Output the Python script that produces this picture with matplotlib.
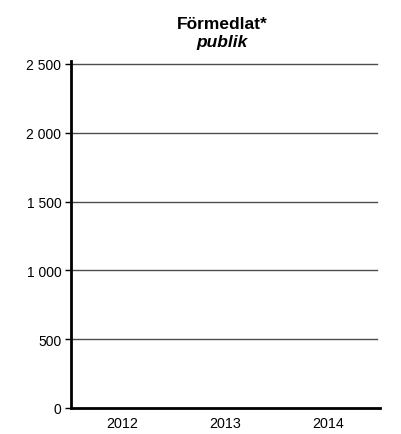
import numpy as np
import matplotlib.pyplot as plt
from matplotlib.ticker import FuncFormatter

plt.rcParams['font.family'] = ['Liberation Sans', 'DejaVu Sans']

# data (the chart shows no bars, so values are empty)
years = ['2012', '2013', '2014']
publik = [0, 0, 0]
yticks = [0, 500, 1000, 1500, 2000, 2500]

fig = plt.figure(figsize=(4.01, 4.35), dpi=100)
ax = fig.add_axes([71/401, 26/435, 309/401, 344/435])

x = np.arange(len(years))
ax.bar(x, publik, width=0.6, color='#4a4a4a', zorder=3)

ax.set_xlim(-0.5, 2.5)
ax.set_ylim(0, 2500)
ax.set_yticks(yticks)
ax.yaxis.set_major_formatter(FuncFormatter(lambda v, p: f'{int(v):,}'.replace(',', ' ')))
ax.set_xticks(x)
ax.set_xticklabels(years)

# horizontal gridlines, stopping just short of the x-axis end
for v in yticks[1:]:
    ax.plot([-0.5, 2.47], [v, v], color='#4d4d4d', lw=1.0, zorder=1, clip_on=False)

for s in ['top', 'right']:
    ax.spines[s].set_visible(False)
ax.spines['left'].set_linewidth(2)
ax.spines['bottom'].set_linewidth(2)
ax.spines['left'].set_bounds(0, 2522)

ax.tick_params(axis='y', length=4, width=1, pad=3, labelsize=10)
ax.tick_params(axis='x', length=0, pad=6, labelsize=10.3)

fig.text(222/401, 1 - 29/435, 'Förmedlat*', ha='center', va='baseline',
         fontsize=12.5, fontweight='bold')
fig.text(222/401, 1 - 47/435, 'publik', ha='center', va='baseline',
         fontsize=12.5, fontweight='bold', fontstyle='italic')

fig.savefig('out.png', dpi=100)
